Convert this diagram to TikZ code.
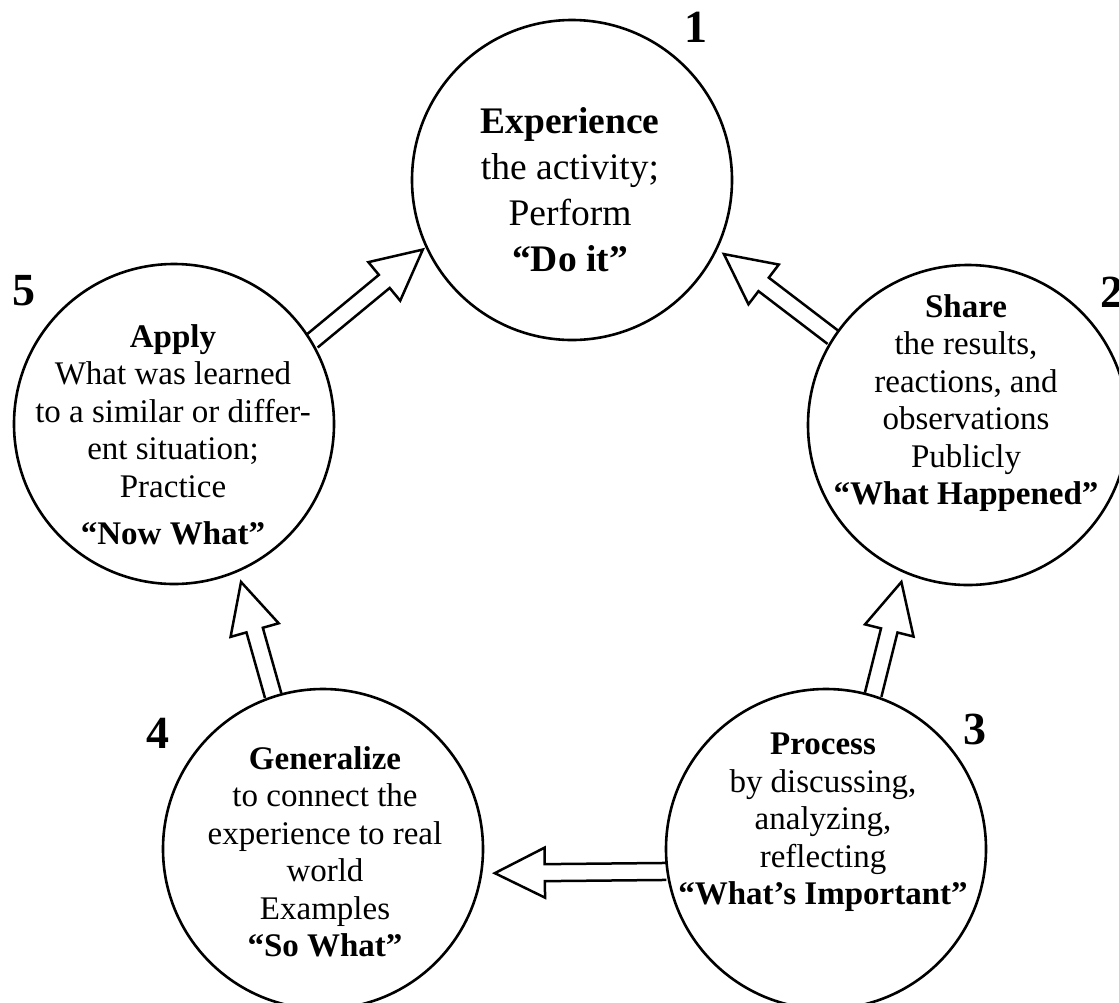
\documentclass[tikz,border=0pt]{standalone}
\usepackage{fontspec}
\setmainfont{Liberation Serif}
\usetikzlibrary{calc}

\tikzset{
  stage/.style={circle, draw, line width=2.6pt, minimum size=320pt, inner sep=0pt},
  body/.style={align=center, inner sep=0pt, anchor=north, font=\fontsize{33}{37.5}\selectfont},
  bigbody/.style={align=center, inner sep=0pt, anchor=north, font=\fontsize{37.5}{46}\selectfont},
  num/.style={font=\fontsize{46}{46}\selectfont\bfseries, inner sep=0pt},
  blockar/.style={line width=2.5pt, line join=miter},
}

\newcommand\hollowarrow[2]{%
  \coordinate (hb) at ($(#2)!50pt!(#1)$);
  \draw[blockar] ($(#1)!8.5pt!90:(#2)$) -- ($(hb)!8.5pt!90:(#2)$) -- ($(hb)!25pt!90:(#2)$) -- (#2)
     -- ($(hb)!25pt!-90:(#2)$) -- ($(hb)!8.5pt!-90:(#2)$) -- ($(#1)!8.5pt!-90:(#2)$);
}

\begin{document}
\begin{tikzpicture}[x=1pt,y=1pt]
\useasboundingbox (0,0) rectangle (1119,-1002);
\clip (0,0) rectangle (1119,-1002);

% circles
\node[stage] (c1) at (572,-180) {};
\node[stage] (c2) at (968,-425) {};
\node[stage] (c3) at (826,-849) {};
\node[stage] (c4) at (323,-849) {};
\node[stage] (c5) at (174,-424) {};

% texts
\node[bigbody] (t1) at (570,-107) {\textbf{Experience}\\the activity;\\Perform\\\textbf{“Do it”}};
\node[body] (t2) at (966,-294) {\textbf{Share}\\the results,\\reactions, and\\observations\\Publicly\\\textbf{“What Happened”}};
\node[body] (t3) at (823,-733) {\textbf{Process}\\by discussing,\\analyzing,\\reflecting\\\textbf{“What’s Important”}};
\node[body] (t4) at (325,-746) {\textbf{Generalize}\\to connect the\\experience to real\\world\\Examples\\\textbf{“So What”}};
\node[body] (t5) at (173,-324) {\textbf{Apply}\\What was learned\\to a similar or differ-\\ent situation;\\Practice\\[10pt]\textbf{“Now What”}};

% numbers
\node[num] (n1) at (696,-27.5) {1};
\node[num] (n2) at (1112,-292) {2};
\node[num] (n3) at (975,-729) {3};
\node[num] (n4) at (158,-733) {4};
\node[num] (n5) at (24,-291) {5};

% arrow end points
\coordinate (a1s) at (c5.31.7);
\coordinate (a1e) at ($(c1.center)!164.6pt!(c1.205)$);
\coordinate (a2s) at (c2.147.8);
\coordinate (a2e) at ($(c1.center)!169pt!(c1.334.9)$);
\coordinate (a3s) at (c3.73.1);
\coordinate (a3e) at ($(c2.center)!170.5pt!(c2.247.7)$);
\coordinate (a4s) at (c3.188.6);
\coordinate (a4e) at ($(c4.center)!173.5pt!(c4.352.5)$);
\coordinate (a5s) at (c4.108);
\coordinate (a5e) at ($(c5.center)!171.6pt!(c5.293.2)$);

\hollowarrow{a1s}{a1e}
\hollowarrow{a2s}{a2e}
\hollowarrow{a3s}{a3e}
\hollowarrow{a4s}{a4e}
\hollowarrow{a5s}{a5e}
\end{tikzpicture}
\end{document}
